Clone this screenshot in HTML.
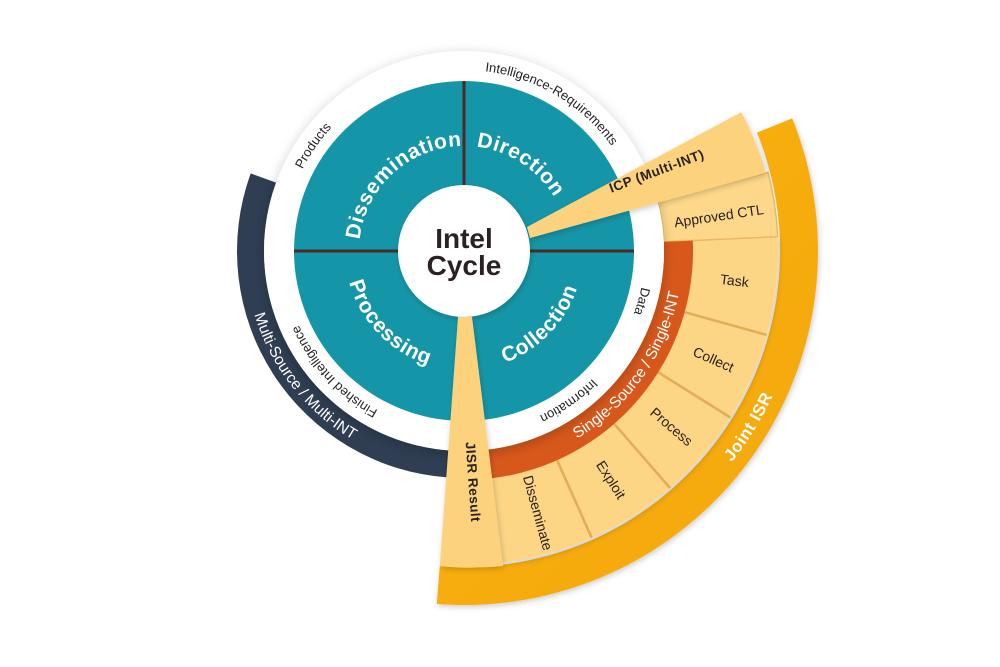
<!DOCTYPE html>
<html><head><meta charset="utf-8"><style>
html,body{margin:0;padding:0;background:#fff;}
svg{display:block;}
text{font-family:"Liberation Sans",sans-serif;}
</style></head><body>
<svg width="1000" height="667" viewBox="0 0 1000 667" xmlns="http://www.w3.org/2000/svg">
<defs>
<filter id="sh" x="-30%" y="-30%" width="160%" height="160%"><feDropShadow dx="0" dy="3" stdDeviation="6" flood-color="#000" flood-opacity="0.22"/></filter>
<filter id="sh2" x="-30%" y="-30%" width="160%" height="160%"><feDropShadow dx="1" dy="2" stdDeviation="3" flood-color="#000" flood-opacity="0.2"/></filter>
<linearGradient id="jg" x1="0" y1="0" x2="1" y2="1"><stop offset="0" stop-color="#fbb414"/><stop offset="1" stop-color="#f3a60b"/></linearGradient>
<path id="pTop105" d="M359,251 A105,105 0 1 1 569,251 A105,105 0 1 1 359,251"/>
<path id="pBot119" d="M345,251 A119,119 0 1 0 583,251 A119,119 0 1 0 345,251"/>
<path id="pRing181" d="M283,251 A181,181 0 1 1 645,251 A181,181 0 1 1 283,251"/>
<path id="pBand219" d="M245,251 A219,219 0 1 0 683,251 A219,219 0 1 0 245,251"/>
<path id="pJ341" d="M123,251 A341,341 0 1 0 805,251 A341,341 0 1 0 123,251"/>
</defs>

<path d="M792.2,118.4 A354,354 0 0 1 436.8,604 L439.8,566.1 A316,316 0 0 0 757,132.6 Z" fill="url(#jg)" filter="url(#sh2)"/>

<path d="M777.7,236.7 A314,314 0 0 1 502.3,562.6 L491.9,478.3 A229,229 0 0 0 692.8,240.6 Z" fill="#fcd685" filter="url(#sh2)"/>
<g stroke="#e2ad58" stroke-width="2.5">
<line x1="684.7" y1="312.2" x2="766.6" y2="334.9"/>
<line x1="658.2" y1="372.3" x2="730.3" y2="417.4"/>
<line x1="614.2" y1="423.8" x2="670" y2="488"/>
<line x1="557.1" y1="460.2" x2="591.7" y2="537.8"/>
</g>
<path d="M768,172.4 A314,314 0 0 1 777.7,236.7 L663.8,241.9 A200,200 0 0 0 657.6,200.9 Z" fill="#fdd88a" stroke="#eab865" stroke-width="1.5"/>

<path d="M692.8,240.6 A229,229 0 0 1 491.9,478.3 L488.4,449.5 A200,200 0 0 0 663.8,241.9 Z" fill="#d8581b"/>

<path d="M448.2,477.5 A227,227 0 0 1 250.7,173.4 L276.1,182.6 A200,200 0 0 0 450,450.5 Z" fill="#2f3e53"/>

<circle cx="464" cy="251" r="200" fill="#fff" filter="url(#sh)"/>
<circle cx="464" cy="251" r="170" fill="#1596a8"/>
<g stroke="#4b2a26" stroke-width="3">
<line x1="464" y1="81" x2="464" y2="186"/>
<line x1="294" y1="251" x2="400" y2="251"/>
<line x1="528" y1="251" x2="634" y2="251"/>
</g>
<circle cx="464" cy="251" r="66" fill="#fff" filter="url(#sh2)"/>
<text x="464" y="248" text-anchor="middle" font-size="28" font-weight="bold" fill="#2b2022">Intel</text>
<text x="464" y="275" text-anchor="middle" font-size="28" font-weight="bold" fill="#2b2022">Cycle</text>

<path d="M527,227 L741.2,112.2 A310,310 0 0 1 766,172.9 L530,238 Z" fill="#fcd37c" filter="url(#sh2)"/>
<path d="M458,317 L472,317 L503,566 A316,316 0 0 1 439.8,566.1 Z" fill="#fcd37c" filter="url(#sh2)"/>

<g font-size="21" font-weight="bold" fill="#fff" letter-spacing="0.6">
<text><textPath href="#pTop105" startOffset="13.2%" text-anchor="middle">Dissemination</textPath></text>
<text><textPath href="#pTop105" startOffset="34.2%" text-anchor="middle">Direction</textPath></text>
<text><textPath href="#pBot119" startOffset="12.2%" text-anchor="middle">Processing</textPath></text>
<text><textPath href="#pBot119" startOffset="37.8%" text-anchor="middle">Collection</textPath></text>
</g>

<g font-size="13" fill="#222">
<text><textPath href="#pRing181" startOffset="9.7%" text-anchor="middle">Products</textPath></text>
<text><textPath href="#pRing181" startOffset="33.5%" text-anchor="middle">Intelligence-Requirements</textPath></text>
<text><textPath href="#pRing181" startOffset="54.4%" text-anchor="middle">Data</textPath></text>
<text><textPath href="#pRing181" startOffset="65.3%" text-anchor="middle">Information</textPath></text>
<text><textPath href="#pRing181" startOffset="88.1%" text-anchor="middle">Finished Intelligence</textPath></text>
</g>

<g font-size="15.5" fill="#fff">
<text><textPath href="#pBand219" startOffset="10.6%" text-anchor="middle">Multi-Source / Multi-INT</textPath></text>
<text><textPath href="#pBand219" startOffset="40.3%" text-anchor="middle">Single-Source / Single-INT</textPath></text>
</g>
<text font-size="17" font-weight="bold" fill="#fff" letter-spacing="0.5"><textPath href="#pJ341" startOffset="41.2%" text-anchor="middle">Joint ISR</textPath></text>

<g font-size="14" fill="#2a2020" text-anchor="middle" dominant-baseline="middle">
<text transform="translate(734.3,281.8) rotate(6.5)">Task</text>
<text transform="translate(713,360.5) rotate(23.75)">Collect</text>
<text transform="translate(670.8,427.6) rotate(40.5)">Process</text>
<text transform="translate(610.1,480.4) rotate(57.5)">Exploit</text>
<text transform="translate(536.7,513.1) rotate(74.5)">Disseminate</text>
<text transform="translate(719,217) rotate(-8.5)">Approved CTL</text>
</g>
<g font-size="13.5" font-weight="bold" fill="#2a2020" text-anchor="middle" dominant-baseline="middle" letter-spacing="0.5">
<text transform="translate(657,172) rotate(-20.5)">ICP (Multi-INT)</text>
<text transform="translate(472,482) rotate(86)">JISR Result</text>
</g>
</svg>
</body></html>
